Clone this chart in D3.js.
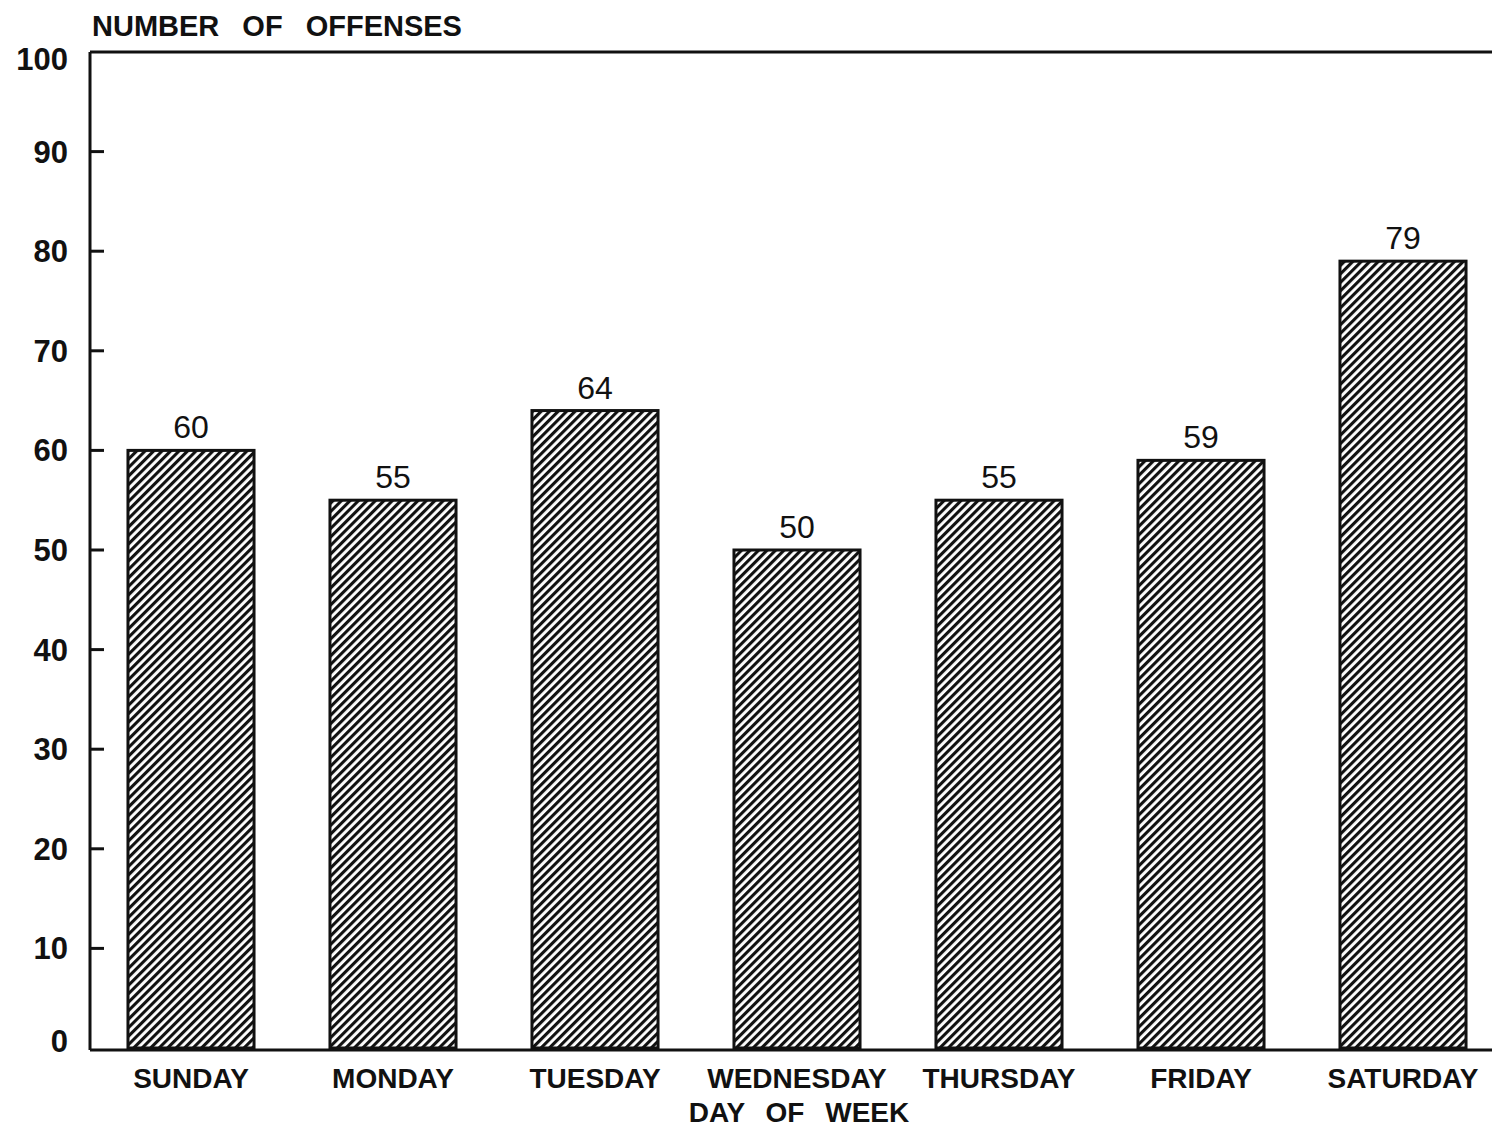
<!DOCTYPE html>
<html>
<head>
<meta charset="utf-8">
<script src="https://cdn.jsdelivr.net/npm/d3@7"></script>
<style>
  body { margin: 0; background: #fff; }
  text { font-family: "Liberation Sans", Arial, sans-serif; fill: #111; }
</style>
</head>
<body>
<div id="chart"></div>
<script>
var days = ['SUNDAY', 'MONDAY', 'TUESDAY', 'WEDNESDAY', 'THURSDAY', 'FRIDAY', 'SATURDAY']
var offenses = [60, 55, 64, 50, 55, 59, 79]
var yTicks = [0, 10, 20, 30, 40, 50, 60, 70, 80, 90, 100]

var chartW = 1492, chartH = 1129
var padLeft = 90, padTop = 52, padBottom = 1048

var svg = d3.select('#chart').append('svg')
  .attr('width', chartW)
  .attr('height', chartH)

// hatch pattern (diagonal, lower-left to upper-right)
var defs = svg.append('defs')
var pat = defs.append('pattern')
  .attr('id', 'hatch')
  .attr('patternUnits', 'userSpaceOnUse')
  .attr('width', 6)
  .attr('height', 6)
  .attr('patternTransform', 'rotate(-45)')
pat.append('rect')
  .attr('width', 6).attr('height', 6)
  .style('fill', '#fff')
pat.append('rect')
  .attr('width', 6).attr('height', 3.1)
  .style('fill', '#111')

var xMap = d3.scaleBand()
  .domain(days)
  .range([padLeft, padLeft + 202 * 7])
  .paddingInner(0.376)
  .paddingOuter(0.188)

var yMap = d3.scaleLinear()
  .domain([0, 100])
  .range([padBottom, padTop])

var g = svg.append('g')

// bars
g.selectAll('.bar')
  .data(offenses)
  .enter().append('rect')
  .attr('class', 'bar')
  .attr('x', (d, i) => xMap(days[i]))
  .attr('y', d => yMap(d))
  .attr('width', xMap.bandwidth())
  .attr('height', d => yMap(0) - yMap(d))
  .style('fill', 'url(#hatch)')
  .style('stroke', '#111')
  .style('stroke-width', 3)

// value labels
g.selectAll('.val')
  .data(offenses)
  .enter().append('text')
  .attr('x', (d, i) => xMap(days[i]) + xMap.bandwidth() / 2)
  .attr('y', d => yMap(d) - 12)
  .style('text-anchor', 'middle')
  .style('font-size', '32px')
  .text(d => d)

// frame: left axis, top line, baseline
var frame = g.append('g')
  .style('stroke', '#111')
  .style('stroke-width', 3)
frame.append('line')
  .attr('x1', padLeft).attr('x2', padLeft)
  .attr('y1', yMap(100)).attr('y2', yMap(0) + 2)
frame.append('line')
  .attr('x1', padLeft).attr('x2', chartW)
  .attr('y1', yMap(100)).attr('y2', yMap(100))
frame.append('line')
  .attr('x1', padLeft).attr('x2', chartW)
  .attr('y1', yMap(0) + 2).attr('y2', yMap(0) + 2)

// y ticks
var gY = g.append('g')
gY.selectAll('line')
  .data(yTicks.filter(d => d > 0 && d < 100))
  .enter().append('line')
  .attr('x1', padLeft).attr('x2', padLeft + 14)
  .attr('y1', d => yMap(d)).attr('y2', d => yMap(d))
  .style('stroke', '#111')
  .style('stroke-width', 3)

gY.selectAll('text')
  .data(yTicks)
  .enter().append('text')
  .attr('x', 68)
  .attr('y', d => yMap(d) + (d === 100 ? 18 : d === 0 ? 4 : 11))
  .style('text-anchor', 'end')
  .style('font-size', '31px')
  .style('font-weight', 'bold')
  .text(d => d)

// x labels
g.selectAll('.cat')
  .data(days)
  .enter().append('text')
  .attr('x', d => xMap(d) + xMap.bandwidth() / 2)
  .attr('y', 1088)
  .style('text-anchor', 'middle')
  .style('font-size', '28px')
  .style('font-weight', 'bold')
  .text(d => d)

g.append('text')
  .attr('x', 799)
  .attr('y', 1122)
  .style('text-anchor', 'middle')
  .style('font-size', '28px')
  .style('font-weight', 'bold')
  .style('word-spacing', '13px')
  .text('DAY OF WEEK')

g.append('text')
  .attr('x', 92)
  .attr('y', 36)
  .style('font-size', '29px')
  .style('font-weight', 'bold')
  .style('word-spacing', '15px')
  .text('NUMBER OF OFFENSES')
</script>
</body>
</html>
